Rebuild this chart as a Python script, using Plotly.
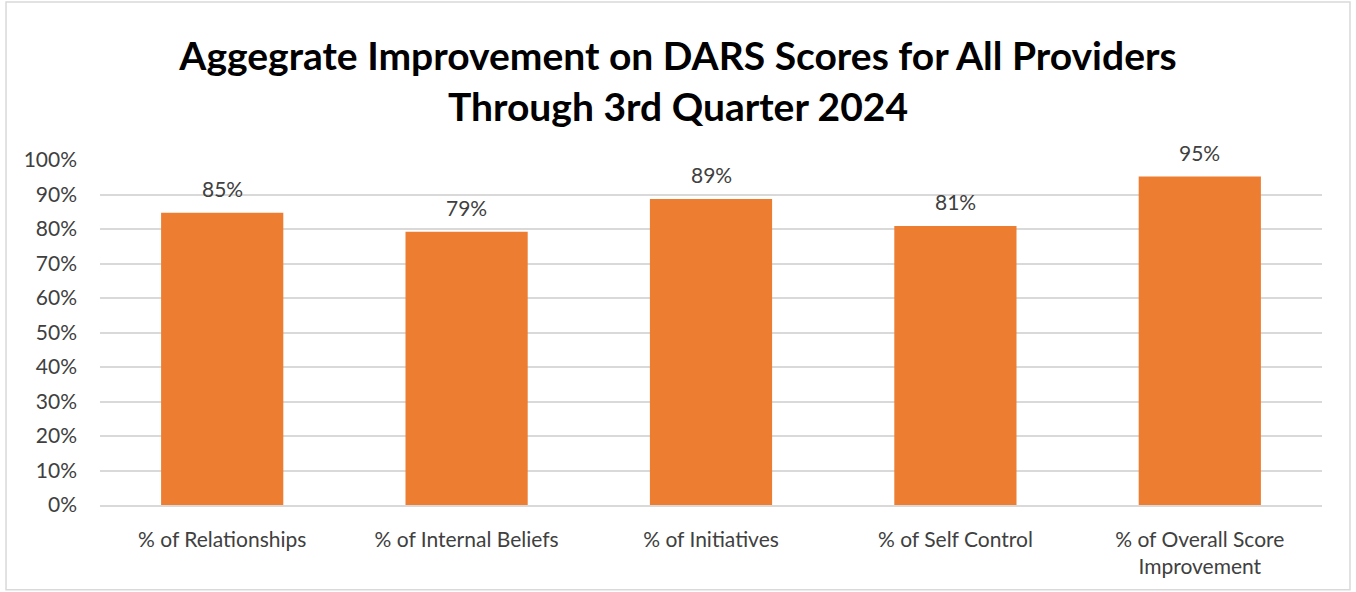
import plotly.graph_objects as go

categories = ['% of Relationships', '% of Internal Beliefs', '% of Initiatives',
              '% of Self Control', '% of Overall Score<br>Improvement']
values = [0.847, 0.792, 0.887, 0.809, 0.952]
tick_vals = [0, 0.1, 0.2, 0.3, 0.4, 0.5, 0.6, 0.7, 0.8, 0.9, 1.0]

fig = go.Figure()

fig.add_trace(go.Bar(
    x=categories,
    y=values,
    width=0.5,
    marker=dict(color='#ED7D31', line=dict(width=0)),
))

# value labels above the bars
for c, v in zip(categories, values):
    fig.add_annotation(x=c, y=v, text=f'{v:.0%}', showarrow=False,
                       yanchor='bottom', yshift=10,
                       font=dict(size=21, color='#404040'))

fig.update_layout(
    width=1356, height=592,
    margin=dict(l=100, r=34, t=160, b=87),
    paper_bgcolor='white',
    plot_bgcolor='white',
    font=dict(family='Lato, Open Sans, sans-serif', size=21, color='#404040'),
    title=dict(
        text='<b>Aggegrate Improvement on DARS Scores for All Providers<br>Through 3rd Quarter 2024</b>',
        x=0.5, xanchor='center', y=0.882, yanchor='top',
        font=dict(size=39, color='black', family='Lato, Open Sans, sans-serif'),
    ),
    showlegend=False,
    bargap=0.5,
)

fig.update_yaxes(
    range=[0, 1.0],
    tickvals=tick_vals,
    tickformat='.0%',
    gridcolor='#D9D9D9',
    gridwidth=1.5,
    zeroline=False,
    showline=False,
    ticks='',
    ticklabelstandoff=22,
)
fig.update_xaxes(
    showline=True,
    linecolor='#D9D9D9',
    linewidth=1.5,
    ticks='',
    ticklabelstandoff=15,
)

fig.add_shape(type='rect', xref='paper', yref='paper',
              x0=-0.0769, x1=1.0229, y0=-0.246, y1=1.458,
              line=dict(color='#D9D9D9', width=1.5))

fig.write_html('out.html', config={'displayModeBar': False},
               post_script="document.body.style.margin='0';")
